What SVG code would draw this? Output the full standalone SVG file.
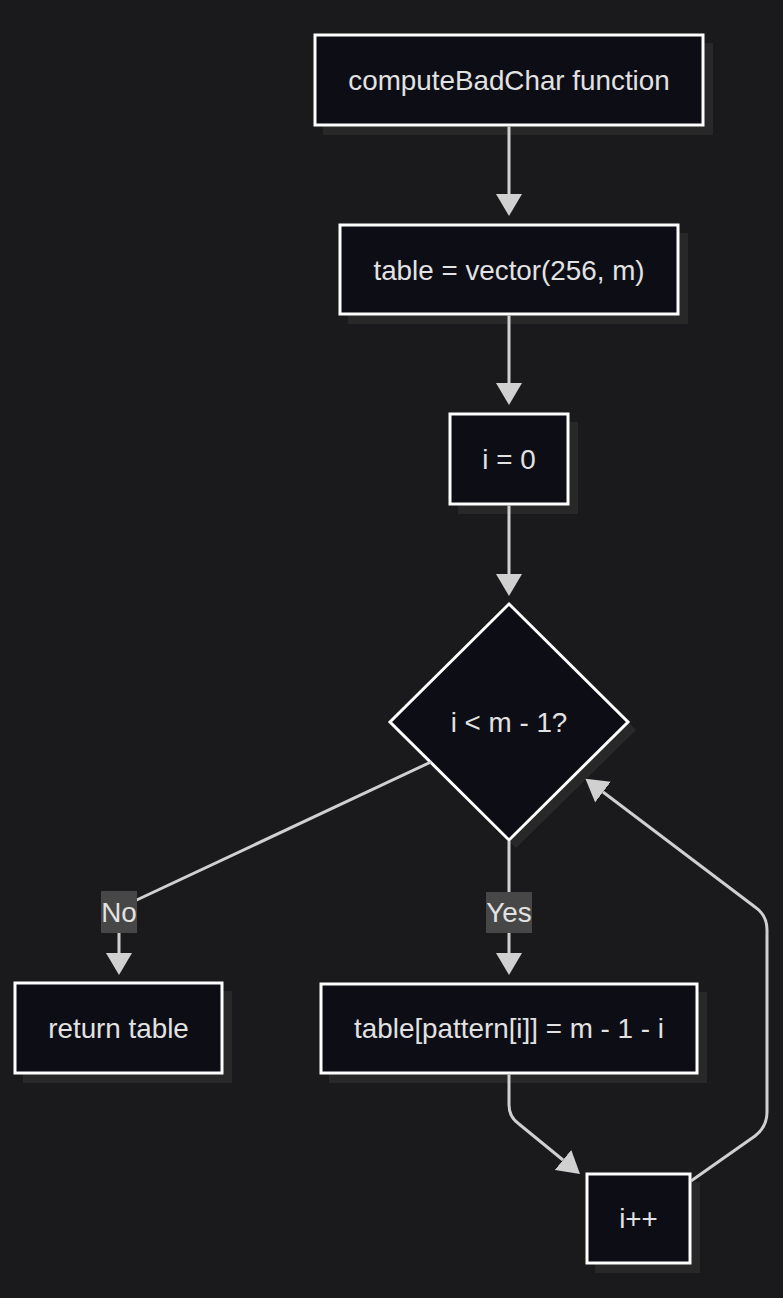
<svg xmlns="http://www.w3.org/2000/svg" width="783" height="1298" viewBox="0 0 783 1298">
<defs>
<marker id="arr" viewBox="0 0 22 26" refX="0" refY="13" markerWidth="22" markerHeight="26" markerUnits="userSpaceOnUse" orient="auto">
<path d="M0,0 L22,13 L0,26 z" fill="#d0d0d0"/>
</marker>
</defs>
<style>
.node{fill:#0d0d15;stroke:#ffffff;stroke-width:3}
.shadow{fill:#282828}
.lbl{font-family:"Liberation Sans",Arial,sans-serif;font-size:27.8px;fill:#e2e2e2;text-anchor:middle;dominant-baseline:central}
.edge{fill:none;stroke:#d0d0d0;stroke-width:3;marker-end:url(#arr)}
.ebg{fill:#474747}
</style>
<rect width="783" height="1298" fill="#1a1a1c"/>
<g id="n1">
<rect class="shadow" x="323" y="43" width="390" height="92"/>
<rect class="node" x="315" y="35" width="388" height="90"/>
<text class="lbl" x="509" y="80">computeBadChar function</text>
</g>
<g id="n2">
<rect class="shadow" x="348" y="233" width="340" height="91"/>
<rect class="node" x="340" y="225" width="338" height="89"/>
<text class="lbl" x="509" y="270">table = vector(256, m)</text>
</g>
<g id="n3">
<rect class="shadow" x="458" y="422" width="120" height="92"/>
<rect class="node" x="450" y="414" width="118" height="90"/>
<text class="lbl" x="509" y="459">i = 0</text>
</g>
<g id="n4">
<polygon class="shadow" points="516,612 636,730 516,848 396,730"/>
<polygon class="node" points="509,604 628,722 509,840 390,722"/>
<text class="lbl" x="509" y="722">i &lt; m - 1?</text>
</g>
<g id="n5">
<rect class="shadow" x="23" y="991" width="209" height="92"/>
<rect class="node" x="15" y="983" width="207" height="90"/>
<text class="lbl" x="118.5" y="1028">return table</text>
</g>
<g id="n6">
<rect class="shadow" x="329" y="992" width="378" height="91"/>
<rect class="node" x="321" y="984" width="376" height="89"/>
<text class="lbl" x="509" y="1028.5">table[pattern[i]] = m - 1 - i</text>
</g>
<g id="n7">
<rect class="shadow" x="595" y="1182" width="105" height="91"/>
<rect class="node" x="587" y="1174" width="103" height="89"/>
<text class="lbl" x="638.5" y="1218.5">i++</text>
</g>
<g id="connectors">
<path class="edge" d="M509,126.5 L509,194"/>
<path class="edge" d="M509,315.5 L509,383"/>
<path class="edge" d="M509,505.5 L509,574"/>
<path class="edge" d="M431,762 L126,905 Q119,908 119,916 L119,953"/>
<path class="edge" d="M509,841 L509,953"/>
<path class="edge" d="M509,1074.5 L509,1105 Q509,1117 519,1124 L563,1160"/>
<path class="edge" d="M691,1181 L755,1136 Q767,1127 767,1112 L767,930 Q767,915 755,907 L603,792"/>
<g id="label-no"><rect class="ebg" x="101" y="891" width="36" height="42"/><text class="lbl" x="119" y="912">No</text></g>
<g id="label-yes"><rect class="ebg" x="486" y="892" width="46" height="41"/><text class="lbl" x="509" y="912.5">Yes</text></g>
</g>
</svg>
